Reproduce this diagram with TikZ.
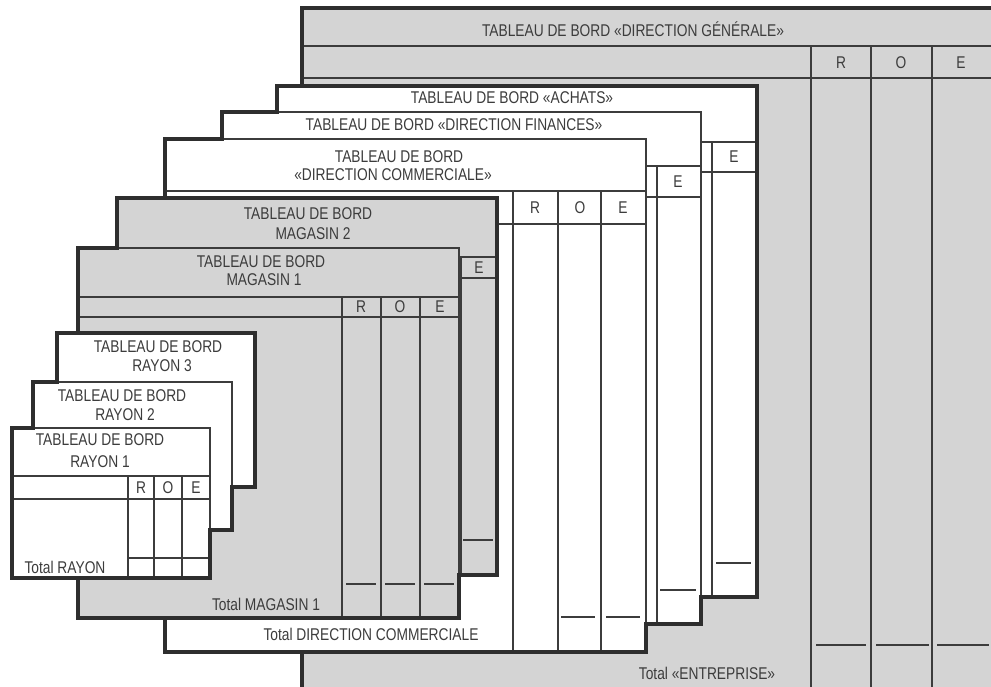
\documentclass[tikz,border=0pt]{standalone}
\usepackage{fontspec}
\setmainfont{Liberation Sans}[FakeStretch=0.81]
\definecolor{ink}{HTML}{3C3C3C}
\definecolor{frame}{HTML}{2E2E2E}
\definecolor{sheetgray}{HTML}{D4D4D4}
\begin{document}
\begin{tikzpicture}[x=1pt,y=-1pt,
  thinln/.style={draw=ink, line width=1.1pt},
  thickln/.style={draw=frame, line width=4.6pt, line join=miter},
  whitesheet/.style={fill=white, draw=ink, line width=1.1pt},
  graysheet/.style={fill=sheetgray, draw=ink, line width=1.1pt},
  lbl/.style={inner sep=0pt, text height=11.7pt, text depth=0pt, font=\fontsize{17}{19}\selectfont, text=ink}]
\useasboundingbox (0,0) rectangle (991,686);
\clip (0,0) rectangle (991,686);
\fill[white] (0,0) rectangle (991,686);

% ---------- Direction Generale ----------
\fill[sheetgray] (302,8) rectangle (1000,700);
\draw[thinln] (302,46) -- (1000,46) (302,78) -- (1000,78);
\draw[thinln] (811,46) -- (811,700) (871,46) -- (871,700) (932,46) -- (932,700);
\draw[thinln] (816,645) -- (866,645) (876,645) -- (929,645) (937,645) -- (989,645);
\draw[thickln] (302,700) -- (302,8) -- (1000,8);
\node[lbl] (dgtitle) at (633,31) {TABLEAU DE BORD «DIRECTION GÉNÉRALE»};
\node[lbl] (dgr) at (841,63) {R};
\node[lbl] (dgo) at (901,63) {O};
\node[lbl] (dge) at (961,63) {E};
\node[lbl] (dgtot) at (707,674) {Total «ENTREPRISE»};

% ---------- Achats ----------
\path[whitesheet] (277,86) rectangle (757,597);
\draw[thinln] (277,142) -- (757,142) (277,172) -- (757,172) (712,142) -- (712,597);
\draw[thinln] (716,563) -- (751,563);
\node[lbl] (achtitle) at (512,98) {TABLEAU DE BORD «ACHATS»};
\node[lbl] (ache) at (734,157) {E};

% ---------- Finances ----------
\path[whitesheet] (222,112) rectangle (701,624);
\draw[thinln] (222,166) -- (701,166) (222,197) -- (701,197) (657,166) -- (657,624);
\draw[thinln] (660,590) -- (696,590);
\node[lbl] (fintitle) at (454,125) {TABLEAU DE BORD «DIRECTION FINANCES»};
\node[lbl] (fine) at (678,182) {E};

% ---------- Commerciale ----------
\path[whitesheet] (165,139) rectangle (646,652);
\draw[thinln] (165,191) -- (646,191) (165,224) -- (646,224);
\draw[thinln] (513,191) -- (513,652) (558,191) -- (558,652) (601,191) -- (601,652);
\draw[thinln] (561,617) -- (595,617) (606,617) -- (640,617);
\node[lbl] (comtitleA) at (399,157) {TABLEAU DE BORD};
\node[lbl] (comtitleB) at (393,175) {«DIRECTION COMMERCIALE»};
\node[lbl] (comr) at (535,208) {R};
\node[lbl] (como) at (580,208) {O};
\node[lbl] (come) at (623,208) {E};
\node[lbl] (comtot) at (371,635) {Total DIRECTION COMMERCIALE};
\draw[thickln] (165,652) -- (165,139) -- (222,139) -- (222,112) -- (277,112) -- (277,86)
  -- (757,86) -- (757,597) -- (701,597) -- (701,624) -- (646,624) -- (646,652) -- cycle;

% ---------- Magasin 2 ----------
\path[graysheet] (117,198) rectangle (497,575);
\draw[thinln] (117,257) -- (497,257) (117,278) -- (497,278) (461,257) -- (461,575);
\draw[thinln] (463,540) -- (493,540);
\node[lbl] (m2titleA) at (308,214) {TABLEAU DE BORD};
\node[lbl] (m2titleB) at (313,234) {MAGASIN 2};
\node[lbl] (m2e) at (479,268) {E};

% ---------- Magasin 1 ----------
\path[graysheet] (78,248) rectangle (459,618);
\draw[thinln] (78,297) -- (459,297) (78,317) -- (459,317);
\draw[thinln] (342,297) -- (342,618) (381,297) -- (381,618) (420,297) -- (420,618);
\draw[thinln] (346,584) -- (376,584) (385,584) -- (415,584) (424,584) -- (454,584);
\node[lbl] (m1titleA) at (261,262) {TABLEAU DE BORD};
\node[lbl] (m1titleB) at (264,280) {MAGASIN 1};
\node[lbl] (m1r) at (361,307) {R};
\node[lbl] (m1o) at (400,307) {O};
\node[lbl] (m1e) at (440,307) {E};
\node[lbl] (m1tot) at (266,605) {Total MAGASIN 1};
\draw[thickln] (78,618) -- (78,248) -- (117,248) -- (117,198) -- (497,198) -- (497,575)
  -- (459,575) -- (459,618) -- cycle;

% ---------- Rayon 3 ----------
\path[whitesheet] (57,333) rectangle (255,487);
\node[lbl] (r3titleA) at (158,347) {TABLEAU DE BORD};
\node[lbl] (r3titleB) at (162,366) {RAYON 3};

% ---------- Rayon 2 ----------
\path[whitesheet] (33,382) rectangle (232,530);
\node[lbl] (r2titleA) at (122,396) {TABLEAU DE BORD};
\node[lbl] (r2titleB) at (125,415) {RAYON 2};

% ---------- Rayon 1 ----------
\path[whitesheet] (12,428) rectangle (210,578);
\draw[thinln] (12,476) -- (210,476) (12,499) -- (210,499);
\draw[thinln] (128,476) -- (128,578) (154,476) -- (154,578) (182,476) -- (182,578);
\draw[thinln] (128,558) -- (210,558);
\node[lbl] (r1titleA) at (100,440) {TABLEAU DE BORD};
\node[lbl] (r1titleB) at (100,462) {RAYON 1};
\node[lbl] (r1r) at (141,488) {R};
\node[lbl] (r1o) at (168,488) {O};
\node[lbl] (r1e) at (196,488) {E};
\node[lbl] (r1tot) at (65,568) {Total RAYON};
\draw[thickln] (12,578) -- (12,428) -- (33,428) -- (33,382) -- (57,382) -- (57,333)
  -- (255,333) -- (255,487) -- (232,487) -- (232,530) -- (210,530) -- (210,578) -- cycle;
\end{tikzpicture}
\end{document}
